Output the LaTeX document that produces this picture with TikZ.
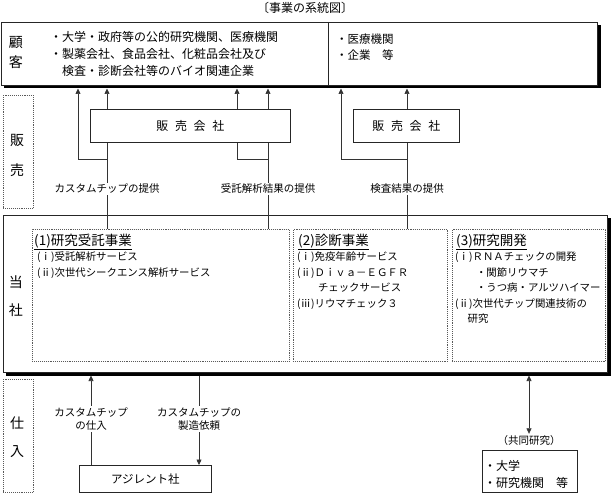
\documentclass[tikz,border=0pt]{standalone}
\usepackage{fontspec}
\setmainfont{Noto Sans CJK JP}
\usetikzlibrary{arrows.meta}
\pgfdeclarelayer{background}
\pgfsetlayers{background,main}
\begin{document}
\begin{tikzpicture}[x=1pt,y=-1pt,
  box/.style={draw=black!85, fill=white, line width=0.7pt, inner sep=0, anchor=north west},
  dotbox/.style={draw=black!65, densely dotted, line width=0.9pt, inner sep=0, anchor=north west},
  conn/.style={draw=black!80, line width=0.65pt},
  arr/.style={conn, -{Triangle[length=5.5pt,width=5pt]}},
  darr/.style={conn, {Triangle[length=5.5pt,width=5pt]}-{Triangle[length=5.5pt,width=5pt]}},
  lbl/.style={fill=white, inner sep=1.5pt, align=center, font=\fontsize{10.5}{12.5}\selectfont},
  side/.style={inner sep=0, font=\fontsize{14}{14}\selectfont},
  body/.style={inner sep=0, anchor=north west, align=left, font=\fontsize{10.4}{15.6}\selectfont},
  head/.style={inner sep=0, anchor=west, font=\fontsize{13.5}{13.5}\selectfont},
  ctext/.style={inner sep=0, anchor=north west, align=left},
  shadowfill/.style={fill=black}
]
\useasboundingbox (0,0) rectangle (613,494);

% title
\node[inner sep=0, font=\fontsize{12}{12}\selectfont] (title) at (305,8) {〔事業の系統図〕};

% customer box
\node[box, minimum width=596pt, minimum height=63pt] (cust) at (1,22) {};
\begin{pgfonlayer}{background}
\fill[shadowfill] ([xshift=2.8pt,yshift=-2.8pt]cust.north west) rectangle ([xshift=2.8pt,yshift=-2.8pt]cust.south east);
\end{pgfonlayer}
\coordinate (divx) at (328,0);
\draw[draw=black!85, line width=0.7pt] (divx |- cust.north) -- (divx |- cust.south);
\node[side] (k1) at (16,43) {顧};
\node[side] (k2) at (16,62) {客};
\node[ctext, font=\fontsize{12}{17}\selectfont] (ctl) at (50,31.5)
  {・大学・政府等の公的研究機関、医療機関\\・製薬会社、食品会社、化粧品会社及び\\\hspace*{1em}検査・診断会社等のバイオ関連企業};
\node[ctext, font=\fontsize{11.5}{15.5}\selectfont] (ctr) at (336,34)
  {・医療機関\\・企業　等};

% sales label
\node[dotbox, minimum width=30pt, minimum height=113pt] (hanbai) at (3,95) {};
\node[side] (h1) at (17,140) {販};
\node[side] (h2) at (17,170) {売};

% main box
\node[box, minimum width=604pt, minimum height=157pt] (main) at (3,215) {};
\begin{pgfonlayer}{background}
\fill[shadowfill] ([xshift=2.8pt,yshift=-2.8pt]main.north west) rectangle ([xshift=2.8pt,yshift=-2.8pt]main.south east);
\end{pgfonlayer}
\node[side] (t1) at (16,282) {当};
\node[side] (t2) at (16,310) {社};
\node[dotbox, minimum width=257pt, minimum height=132pt] (b1) at (32,229) {};
\node[dotbox, minimum width=154pt, minimum height=132pt] (b2) at (293,229) {};
\node[dotbox, minimum width=153pt, minimum height=132pt] (b3) at (452,229) {};

\node[head] (h1t) at (34,242) {\underline{(1)研究受託事業}};
\node[body] (b1t) at (37,251.5) {(ⅰ)受託解析サービス\\(ⅱ)次世代シークエンス解析サービス};
\node[head] (h2t) at (298,242) {\underline{(2)診断事業}};
\node[body] (b2t) at (297,251.5) {(ⅰ)免疫年齢サービス\\(ⅱ)Ｄｉｖａ－ＥＧＦＲ\\\hspace*{2em}チェックサービス\\(ⅲ)リウマチェック３};
\node[head] (h3t) at (456,242) {\underline{(3)研究開発}};
\node[body] (b3t) at (455,251.5) {(ⅰ)ＲＮＡチェックの開発\\\hspace*{2em}・関節リウマチ\\\hspace*{2em}・うつ病・アルツハイマー\\(ⅱ)次世代チップ関連技術の\\\hspace*{1.2em}研究};

% connectors upward
\coordinate (xa) at (78,0);
\coordinate (xb) at (107,0);
\coordinate (xc) at (237,0);
\coordinate (xd) at (268,0);
\coordinate (xe) at (341,0);
\coordinate (xf) at (407,0);
\coordinate (j) at (0,159);
\draw[arr, shorten >=2.8pt] (xb |- b1.north) -- (xb |- cust.south);
\draw[arr, shorten >=2.8pt] (xb |- j) -| (xa |- cust.south);
\draw[arr, shorten >=2.8pt] (xd |- b1.north) -- (xd |- cust.south);
\draw[arr, shorten >=2.8pt] (xd |- j) -| (xc |- cust.south);
\draw[arr, shorten >=2.8pt] (xf |- b2.north) -- (xf |- cust.south);
\draw[arr, shorten >=2.8pt] (xf |- j) -| (xe |- cust.south);

% sales companies
\node[box, minimum width=200pt, minimum height=33pt, font=\fontsize{12}{12}\selectfont] (s1) at (90,109) {販\hspace{0.55em}売\hspace{0.55em}会\hspace{0.55em}社};
\node[box, minimum width=106pt, minimum height=33pt, font=\fontsize{12}{12}\selectfont] (s2) at (353,109) {販\hspace{0.55em}売\hspace{0.55em}会\hspace{0.55em}社};

\node[lbl] (l1) at (107,189) {カスタムチップの提供};
\node[lbl] (l2) at (268,189) {受託解析結果の提供};
\node[lbl] (l3) at (407,189) {検査結果の提供};

% purchase label
\node[dotbox, minimum width=30pt, minimum height=113pt] (shiire) at (3,379) {};
\node[side] (p1) at (17,423) {仕};
\node[side] (p2) at (17,452) {入};

% Agilent
\node[box, minimum width=132pt, minimum height=27pt, font=\fontsize{11.5}{12}\selectfont] (ag) at (79,465) {アジレント社};
\coordinate (xg) at (91,0);
\coordinate (xh) at (199,0);
\coordinate (xi) at (529,0);
\draw[arr, shorten >=2.8pt] (xg |- ag.north) -- (xg |- main.south);
\draw[arr, shorten <=2.8pt] (xh |- main.south) -- (xh |- ag.north);
\node[lbl] (l4) at (91,419) {カスタムチップ\\の仕入};
\node[lbl] (l5) at (199,419) {カスタムチップの\\製造依頼};

% joint research
\node[inner sep=0, font=\fontsize{10.5}{12}\selectfont] (kyodo) at (529,441) {（共同研究）};
\draw[darr, shorten <=2.8pt] (xi |- main.south) -- ([yshift=2pt]kyodo.north);
\node[box, minimum width=95pt, minimum height=42pt] (res) at (482,450) {};
\node[ctext, font=\fontsize{12}{17}\selectfont] (rest) at (484,460) {・大学\\・研究機関　等};
\end{tikzpicture}
\end{document}
